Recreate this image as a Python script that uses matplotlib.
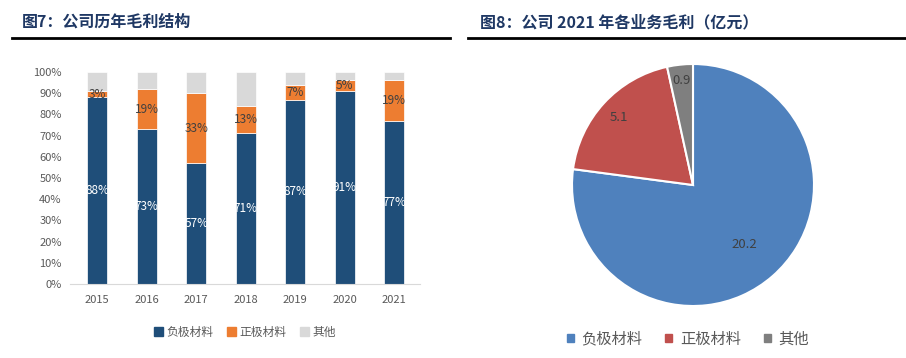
import matplotlib
matplotlib.use("Agg")
import matplotlib.pyplot as plt
import numpy as np
from matplotlib.lines import Line2D
from matplotlib.patches import Patch

plt.rcParams['font.family'] = ['Noto Sans CJK SC', 'DejaVu Sans']

# 图7 数据
years = ["2015", "2016", "2017", "2018", "2019", "2020", "2021"]
neg_share = [88, 73, 57, 71, 87, 91, 77]
pos_share = [3, 19, 33, 13, 7, 5, 19]
other_share = [9, 8, 10, 16, 6, 4, 4]

# 图8 数据
pie_labels = ["负极材料", "正极材料", "其他"]
pie_values = [20.2, 5.1, 0.9]
pie_label_r = [0.65, 0.83, 0.87]

bar_colors = ["#1F4E79", "#ED7D31", "#D9D9D9"]
pie_colors = ["#4F81BD", "#C0504D", "#7F7F7F"]
title_color = "#1F3864"
tick_color = "#595959"

fig = plt.figure(figsize=(9.06, 3.58), dpi=100)

# 标题和下划线
fig.text(22 / 906, 1 - 22 / 358, "图7：公司历年毛利结构", fontsize=11.5, fontweight="bold",
         color=title_color, va="center", ha="left")
fig.text(480 / 906, 1 - 22 / 358, "图8：公司 2021 年各业务毛利（亿元）", fontsize=11.5, fontweight="bold",
         color=title_color, va="center", ha="left")
fig.add_artist(Line2D([12 / 906, 450 / 906], [1 - 38 / 358] * 2, color="black", lw=2))
fig.add_artist(Line2D([468 / 906, 1.0], [1 - 38 / 358] * 2, color="black", lw=2))

# 柱状图
ax = fig.add_axes([70 / 906, 74 / 358, 350 / 906, 212 / 358])
x = np.arange(len(years))
neg = np.array(neg_share) / 100
pos = np.array(pos_share) / 100
oth = np.array(other_share) / 100
w = 0.4
ax.bar(x, neg, w, color=bar_colors[0], edgecolor="white", linewidth=0.5, label="负极材料")
ax.bar(x, pos, w, bottom=neg, color=bar_colors[1], edgecolor="white", linewidth=0.5, label="正极材料")
ax.bar(x, oth, w, bottom=neg + pos, color=bar_colors[2], edgecolor="white", linewidth=0.5, label="其他")
for i in range(len(years)):
    ax.text(x[i], neg[i] / 2, f"{neg_share[i]}%", ha="center", va="center", color="white", fontsize=8.5)
    ax.text(x[i], neg[i] + pos[i] / 2, f"{pos_share[i]}%", ha="center", va="center", color="#404040", fontsize=8.5)
ax.set_xlim(-0.55, 6.52)
ax.set_ylim(0, 1)
ax.set_yticks(np.arange(0, 1.01, 0.1))
ax.set_yticklabels([f"{int(v)}%" for v in np.arange(0, 101, 10)])
ax.set_xticks(x)
ax.set_xticklabels(years)
for s in ["top", "right", "left"]:
    ax.spines[s].set_visible(False)
ax.spines["bottom"].set_color("#D9D9D9")
ax.tick_params(axis="both", length=0, labelsize=8, colors=tick_color)
ax.tick_params(axis="x", pad=8)
ax.tick_params(axis="y", pad=6)
handles = [Patch(color=c) for c in bar_colors]
fig.legend(handles, ["负极材料", "正极材料", "其他"], loc="center", bbox_to_anchor=(245 / 906, 1 - 332 / 358),
           ncol=3, frameon=False, fontsize=8.5, handlelength=0.7, handleheight=0.7, handletextpad=0.3,
           columnspacing=1.2, labelcolor=tick_color)

# 饼图
pax = fig.add_axes([(693 - 121) / 906, (358 - 185 - 121) / 358, 242 / 906, 242 / 358])
wedges, _ = pax.pie(pie_values, colors=pie_colors, startangle=90, counterclock=False,
                    wedgeprops=dict(edgecolor="white", linewidth=1.5))
for wdg, v, r in zip(wedges, pie_values, pie_label_r):
    ang = np.deg2rad((wdg.theta1 + wdg.theta2) / 2)
    pax.text(r * np.cos(ang), r * np.sin(ang), f"{v}", ha="center", va="center", fontsize=9.5, color="#404040")
pax.set_xlim(-1, 1)
pax.set_ylim(-1, 1)
handles = [Patch(color=c) for c in pie_colors]
fig.legend(handles, pie_labels, loc="center", bbox_to_anchor=(688 / 906, 1 - 339 / 358),
           ncol=3, frameon=False, fontsize=11, handlelength=0.45, handleheight=0.45, handletextpad=0.5,
           columnspacing=1.5, labelcolor=tick_color)

fig.savefig("out.png", dpi=100)
